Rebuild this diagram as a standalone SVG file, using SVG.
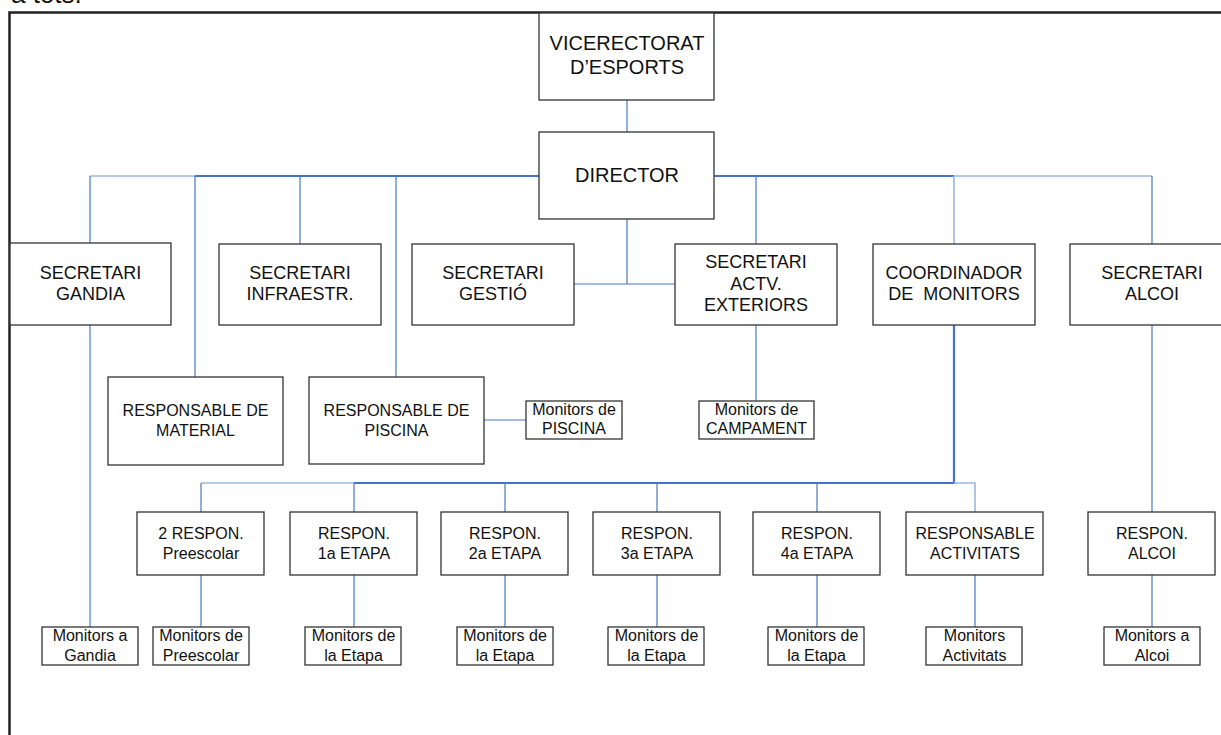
<svg xmlns="http://www.w3.org/2000/svg" width="1221" height="735" viewBox="0 0 1221 735">
<style>
.bx{fill:#fff;stroke:#333;stroke-width:1.3}
.t{font-family:"Liberation Sans",Arial,sans-serif;fill:#111;text-anchor:middle}
.f20{font-size:20px}
.f18{font-size:18px}
.f16{font-size:16px}
.c{fill:none;stroke:#4a7ac4;stroke-width:1.2}
.ck{fill:none;stroke:#4472C4;stroke-width:2.2}
.cl{fill:none;stroke:#9ab8de;stroke-width:1.6}
</style>
<rect width="1221" height="735" fill="#fff"/>
<text x="11" y="3" font-family="Liberation Sans,Arial,sans-serif" font-size="26" fill="#111">a tots.</text>
<rect x="9.5" y="12.5" width="1300" height="800" fill="none" stroke="#222" stroke-width="2.5"/>
<g id="connectors">
<path class="c" d="M627 100V132"/>
<path class="cl" d="M90 176H195"/>
<path class="ck" d="M195 176H539M714 176H954"/>
<path class="cl" d="M954 176H1152"/>
<path class="c" d="M90 176V243M195 176V377M300 176V244M396 176V377M756 176V244M1152 176V244"/>
<path class="cl" d="M954 176V244"/>
<path class="c" d="M627 219V284M574 284H675"/>
<path class="c" d="M484 420H526"/>
<path class="c" d="M756 325V401"/>
<path class="c" d="M90 325V627"/>
<path class="c" d="M1152 325V512M1152 575V627"/>
<path class="ck" d="M954 325V483H354"/>
<path class="cl" d="M354 483H201M954 483H975V512"/>
<path class="c" d="M201 483V512M354 483V512M505 483V512M657 483V512M817 483V512"/>
<path class="c" d="M201 575V627M354 575V627M505 575V627M657 575V627M817 575V627M975 575V627"/>
</g>
<g id="vicerectorat"><rect class="bx" x="539" y="13" width="175" height="87"/><text class="t f20" x="627" y="50">VICERECTORAT</text><text class="t f20" x="627" y="74">D’ESPORTS</text></g>
<g id="director"><rect class="bx" x="539" y="132" width="175" height="87"/><text class="t f20" x="627" y="182">DIRECTOR</text></g>
<g id="sec-gandia"><rect class="bx" x="10" y="243" width="161" height="82"/><text class="t f18" x="90.5" y="279">SECRETARI</text><text class="t f18" x="90.5" y="300">GANDIA</text></g>
<g id="sec-infraestr"><rect class="bx" x="219" y="244" width="162" height="81"/><text class="t f18" x="300" y="279">SECRETARI</text><text class="t f18" x="300" y="300">INFRAESTR.</text></g>
<g id="sec-gestio"><rect class="bx" x="412" y="244" width="162" height="81"/><text class="t f18" x="493" y="279">SECRETARI</text><text class="t f18" x="493" y="300">GESTIÓ</text></g>
<g id="sec-actv"><rect class="bx" x="675" y="244" width="162" height="81"/><text class="t f18" x="756" y="268">SECRETARI</text><text class="t f18" x="756" y="290">ACTV.</text><text class="t f18" x="756" y="311">EXTERIORS</text></g>
<g id="coordinador"><rect class="bx" x="873" y="244" width="162" height="81"/><text class="t f18" x="954" y="279">COORDINADOR</text><text class="t f18" x="954" y="300" xml:space="preserve">DE  MONITORS</text></g>
<g id="sec-alcoi"><rect class="bx" x="1070" y="244" width="162" height="81"/><text class="t f18" x="1152" y="279">SECRETARI</text><text class="t f18" x="1152" y="300">ALCOI</text></g>
<g id="resp-material"><rect class="bx" x="108" y="377" width="175" height="88"/><text class="t f16" x="195.5" y="416">RESPONSABLE DE</text><text class="t f16" x="195.5" y="436">MATERIAL</text></g>
<g id="resp-piscina"><rect class="bx" x="309" y="377" width="175" height="87"/><text class="t f16" x="396.5" y="416">RESPONSABLE DE</text><text class="t f16" x="396.5" y="436">PISCINA</text></g>
<g id="mon-piscina"><rect class="bx" x="526" y="401" width="96" height="38"/><text class="t f16" x="574" y="415">Monitors de</text><text class="t f16" x="574" y="434">PISCINA</text></g>
<g id="mon-campament"><rect class="bx" x="699" y="401" width="115" height="38"/><text class="t f16" x="756.5" y="415">Monitors de</text><text class="t f16" x="756.5" y="434">CAMPAMENT</text></g>
<g id="resp-preescolar"><rect class="bx" x="137" y="512" width="127" height="63"/><text class="t f16" x="201" y="539">2 RESPON.</text><text class="t f16" x="201" y="559">Preescolar</text></g>
<g id="resp-1a"><rect class="bx" x="290" y="512" width="127" height="63"/><text class="t f16" x="354" y="539">RESPON.</text><text class="t f16" x="354" y="559">1a ETAPA</text></g>
<g id="resp-2a"><rect class="bx" x="441" y="512" width="127" height="63"/><text class="t f16" x="505" y="539">RESPON.</text><text class="t f16" x="505" y="559">2a ETAPA</text></g>
<g id="resp-3a"><rect class="bx" x="593" y="512" width="127" height="63"/><text class="t f16" x="657" y="539">RESPON.</text><text class="t f16" x="657" y="559">3a ETAPA</text></g>
<g id="resp-4a"><rect class="bx" x="753" y="512" width="127" height="63"/><text class="t f16" x="817" y="539">RESPON.</text><text class="t f16" x="817" y="559">4a ETAPA</text></g>
<g id="resp-activitats"><rect class="bx" x="906" y="512" width="137" height="63"/><text class="t f16" x="975" y="539">RESPONSABLE</text><text class="t f16" x="975" y="559">ACTIVITATS</text></g>
<g id="resp-alcoi"><rect class="bx" x="1088" y="512" width="127" height="63"/><text class="t f16" x="1152" y="539">RESPON.</text><text class="t f16" x="1152" y="559">ALCOI</text></g>
<g id="mon-gandia"><rect class="bx" x="42" y="627" width="96" height="38"/><text class="t f16" x="90" y="641">Monitors a</text><text class="t f16" x="90" y="661">Gandia</text></g>
<g id="mon-preescolar"><rect class="bx" x="153" y="627" width="96" height="38"/><text class="t f16" x="201" y="641">Monitors de</text><text class="t f16" x="201" y="661">Preescolar</text></g>
<g id="mon-etapa1"><rect class="bx" x="305" y="627" width="96" height="38"/><text class="t f16" x="353.5" y="641">Monitors de</text><text class="t f16" x="353.5" y="661">la Etapa</text></g>
<g id="mon-etapa2"><rect class="bx" x="457" y="627" width="96" height="38"/><text class="t f16" x="505" y="641">Monitors de</text><text class="t f16" x="505" y="661">la Etapa</text></g>
<g id="mon-etapa3"><rect class="bx" x="608" y="627" width="96" height="38"/><text class="t f16" x="656.5" y="641">Monitors de</text><text class="t f16" x="656.5" y="661">la Etapa</text></g>
<g id="mon-etapa4"><rect class="bx" x="768" y="627" width="96" height="38"/><text class="t f16" x="816.5" y="641">Monitors de</text><text class="t f16" x="816.5" y="661">la Etapa</text></g>
<g id="mon-activitats"><rect class="bx" x="926" y="627" width="96" height="38"/><text class="t f16" x="974.5" y="641">Monitors</text><text class="t f16" x="974.5" y="661">Activitats</text></g>
<g id="mon-alcoi"><rect class="bx" x="1104" y="627" width="96" height="38"/><text class="t f16" x="1152" y="641">Monitors a</text><text class="t f16" x="1152" y="661">Alcoi</text></g>
</svg>
